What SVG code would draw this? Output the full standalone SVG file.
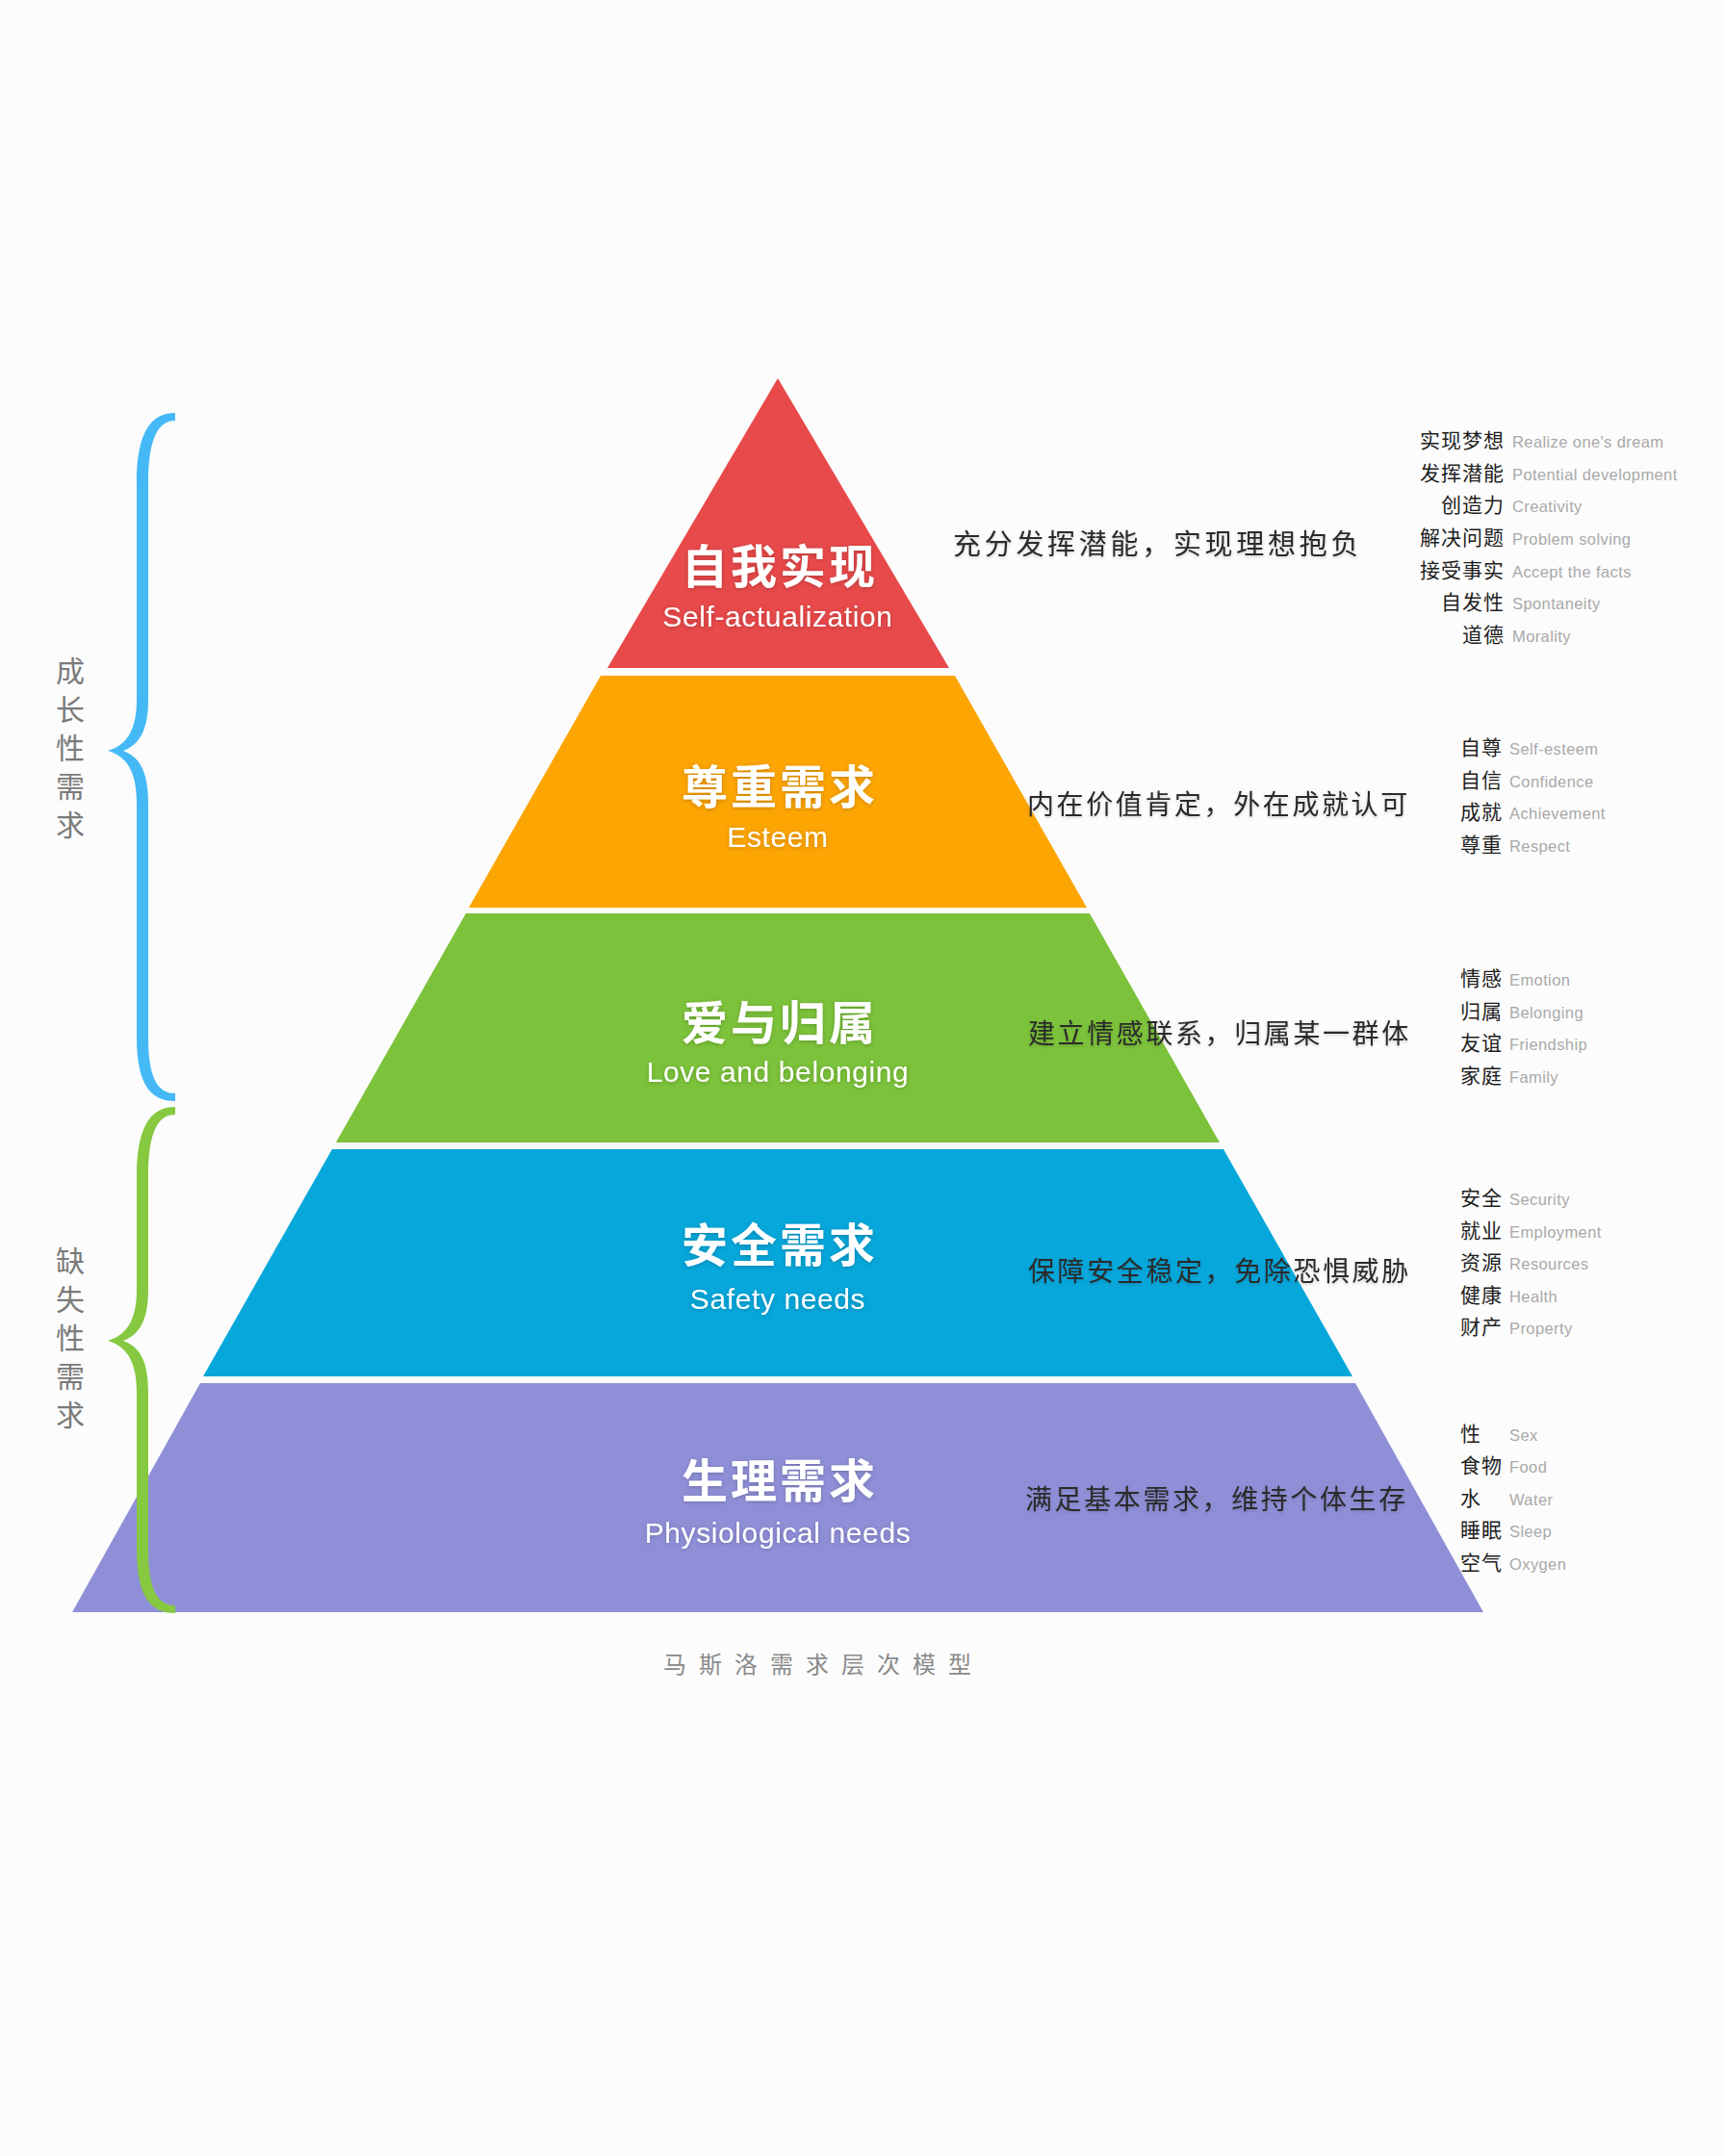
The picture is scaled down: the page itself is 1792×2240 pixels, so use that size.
<svg xmlns="http://www.w3.org/2000/svg" width="1792" height="2240" viewBox="0 0 1792 2240">
<defs>
<filter id="sh" x="-10%" y="-30%" width="120%" height="160%">
<feDropShadow dx="0" dy="1" stdDeviation="2" flood-color="#000" flood-opacity="0.22"/>
</filter>
<filter id="sh2" x="-10%" y="-30%" width="120%" height="160%">
<feDropShadow dx="0" dy="1.5" stdDeviation="1.5" flood-color="#000" flood-opacity="0.18"/>
</filter>
</defs>
<style>
.title{font-family:"Noto Sans CJK SC","Noto Sans",sans-serif;font-weight:700;font-size:48px;fill:#fff;letter-spacing:3px;text-anchor:middle}
.sub{font-family:"Liberation Sans",Arial,sans-serif;font-size:30px;fill:#fff;letter-spacing:0.6px;text-anchor:middle}
.desc{font-family:"Noto Sans CJK SC",sans-serif;font-size:28px;fill:#2a2a2a;letter-spacing:2.6px}
.cn{font-family:"Noto Sans CJK SC",sans-serif;font-size:21px;fill:#1e1e1e;letter-spacing:1px}
.en{font-family:"Liberation Sans",Arial,sans-serif;font-size:16.5px;fill:#a9a9a9;letter-spacing:0.4px}
.side{font-family:"Noto Sans CJK SC",sans-serif;font-size:30px;fill:#7a7a7a;text-anchor:middle}
.cap{font-family:"Noto Sans CJK SC",sans-serif;font-size:24px;fill:#8a8a8a;letter-spacing:13px}
</style>
<rect width="1792" height="2240" fill="#FCFCFC"/>

<g id="layer-self-actualization">
<polygon points="808,393 986,694 631,694" fill="#E8494A"/>
<text class="title" x="810" y="606" filter="url(#sh)">自我实现</text>
<text class="sub" x="808" y="651" filter="url(#sh)">Self-actualization</text>
</g>
<g id="layer-esteem">
<polygon points="624,702 992,702 1129,943 487,943" fill="#FDA503"/>
<text class="title" x="810" y="835" filter="url(#sh)">尊重需求</text>
<text class="sub" x="808" y="880" filter="url(#sh)">Esteem</text>
</g>
<g id="layer-love">
<polygon points="484,949 1132,949 1267,1187 349,1187" fill="#7CC23A"/>
<text class="title" x="810" y="1080" filter="url(#sh)">爱与归属</text>
<text class="sub" x="808" y="1124" filter="url(#sh)">Love and belonging</text>
</g>
<g id="layer-safety">
<polygon points="345,1194 1271,1194 1405,1430 211,1430" fill="#06A7DB"/>
<text class="title" x="810" y="1311" filter="url(#sh)">安全需求</text>
<text class="sub" x="808" y="1360" filter="url(#sh)">Safety needs</text>
</g>
<g id="layer-physiological">
<polygon points="208,1437 1408,1437 1541,1675 75,1675" fill="#8F8FD8"/>
<text class="title" x="810" y="1556" filter="url(#sh)">生理需求</text>
<text class="sub" x="808" y="1603" filter="url(#sh)">Physiological needs</text>
</g>

<g id="descriptions" filter="url(#sh2)">
<text class="desc" x="990" y="576" style="font-size:29px;letter-spacing:3.7px">充分发挥潜能，实现理想抱负</text>
<text class="desc" x="1067" y="846">内在价值肯定，外在成就认可</text>
<text class="desc" x="1068" y="1084">建立情感联系，归属某一群体</text>
<text class="desc" x="1068" y="1331">保障安全稳定，免除恐惧威胁</text>
<text class="desc" x="1065" y="1568">满足基本需求，维持个体生存</text>
</g>

<g id="list-self-actualization">
<g style="text-anchor:end">
<text class="cn" x="1563" y="465">实现梦想</text>
<text class="cn" x="1563" y="499">发挥潜能</text>
<text class="cn" x="1563" y="532">创造力</text>
<text class="cn" x="1563" y="566">解决问题</text>
<text class="cn" x="1563" y="600">接受事实</text>
<text class="cn" x="1563" y="633">自发性</text>
<text class="cn" x="1563" y="667">道德</text>
</g>
<text class="en" x="1571" y="465">Realize one's dream</text>
<text class="en" x="1571" y="499">Potential development</text>
<text class="en" x="1571" y="532">Creativity</text>
<text class="en" x="1571" y="566">Problem solving</text>
<text class="en" x="1571" y="600">Accept the facts</text>
<text class="en" x="1571" y="633">Spontaneity</text>
<text class="en" x="1571" y="667">Morality</text>
</g>

<g id="list-esteem">
<text class="cn" x="1517" y="784">自尊</text><text class="en" x="1568" y="784">Self-esteem</text>
<text class="cn" x="1517" y="818">自信</text><text class="en" x="1568" y="818">Confidence</text>
<text class="cn" x="1517" y="851">成就</text><text class="en" x="1568" y="851">Achievement</text>
<text class="cn" x="1517" y="885">尊重</text><text class="en" x="1568" y="885">Respect</text>
</g>

<g id="list-love">
<text class="cn" x="1517" y="1024">情感</text><text class="en" x="1568" y="1024">Emotion</text>
<text class="cn" x="1517" y="1058">归属</text><text class="en" x="1568" y="1058">Belonging</text>
<text class="cn" x="1517" y="1091">友谊</text><text class="en" x="1568" y="1091">Friendship</text>
<text class="cn" x="1517" y="1125">家庭</text><text class="en" x="1568" y="1125">Family</text>
</g>

<g id="list-safety">
<text class="cn" x="1517" y="1252">安全</text><text class="en" x="1568" y="1252">Security</text>
<text class="cn" x="1517" y="1286">就业</text><text class="en" x="1568" y="1286">Employment</text>
<text class="cn" x="1517" y="1319">资源</text><text class="en" x="1568" y="1319">Resources</text>
<text class="cn" x="1517" y="1353">健康</text><text class="en" x="1568" y="1353">Health</text>
<text class="cn" x="1517" y="1386">财产</text><text class="en" x="1568" y="1386">Property</text>
</g>

<g id="list-physiological">
<text class="cn" x="1517" y="1497">性</text><text class="en" x="1568" y="1497">Sex</text>
<text class="cn" x="1517" y="1530">食物</text><text class="en" x="1568" y="1530">Food</text>
<text class="cn" x="1517" y="1564">水</text><text class="en" x="1568" y="1564">Water</text>
<text class="cn" x="1517" y="1597">睡眠</text><text class="en" x="1568" y="1597">Sleep</text>
<text class="cn" x="1517" y="1631">空气</text><text class="en" x="1568" y="1631">Oxygen</text>
</g>

<g id="braces">
<path id="brace-growth" fill="#45B9F6" d="M182 429 C160 429,142 444,142 502 L142 727 C142 758,132 774,112 780 C132 786,142 802,142 834 L142 1078 C142 1132,160 1144,182 1144 L182 1136 C166 1136,154 1124,154 1078 L154 834 C154 800,144 786,128 780 C144 774,154 760,154 727 L154 502 C154 452,166 437,182 437 Z"/>
<path id="brace-deficiency" fill="#86C840" d="M182 1150 C160 1150,142 1165,142 1222 L142 1340 C142 1371,132 1387,112 1393 C132 1399,142 1415,142 1446 L142 1610 C142 1664,160 1676,182 1676 L182 1668 C166 1668,154 1656,154 1610 L154 1446 C154 1412,144 1399,128 1393 C144 1387,154 1373,154 1340 L154 1222 C154 1172,166 1158,182 1158 Z"/>
</g>

<g id="label-growth">
<text class="side" x="73" y="708">成</text>
<text class="side" x="73" y="748">长</text>
<text class="side" x="73" y="788">性</text>
<text class="side" x="73" y="828">需</text>
<text class="side" x="73" y="868">求</text>
</g>
<g id="label-deficiency">
<text class="side" x="73" y="1321">缺</text>
<text class="side" x="73" y="1361">失</text>
<text class="side" x="73" y="1401">性</text>
<text class="side" x="73" y="1441">需</text>
<text class="side" x="73" y="1481">求</text>
</g>

<text id="caption" class="cap" x="689" y="1738">马斯洛需求层次模型</text>
</svg>
